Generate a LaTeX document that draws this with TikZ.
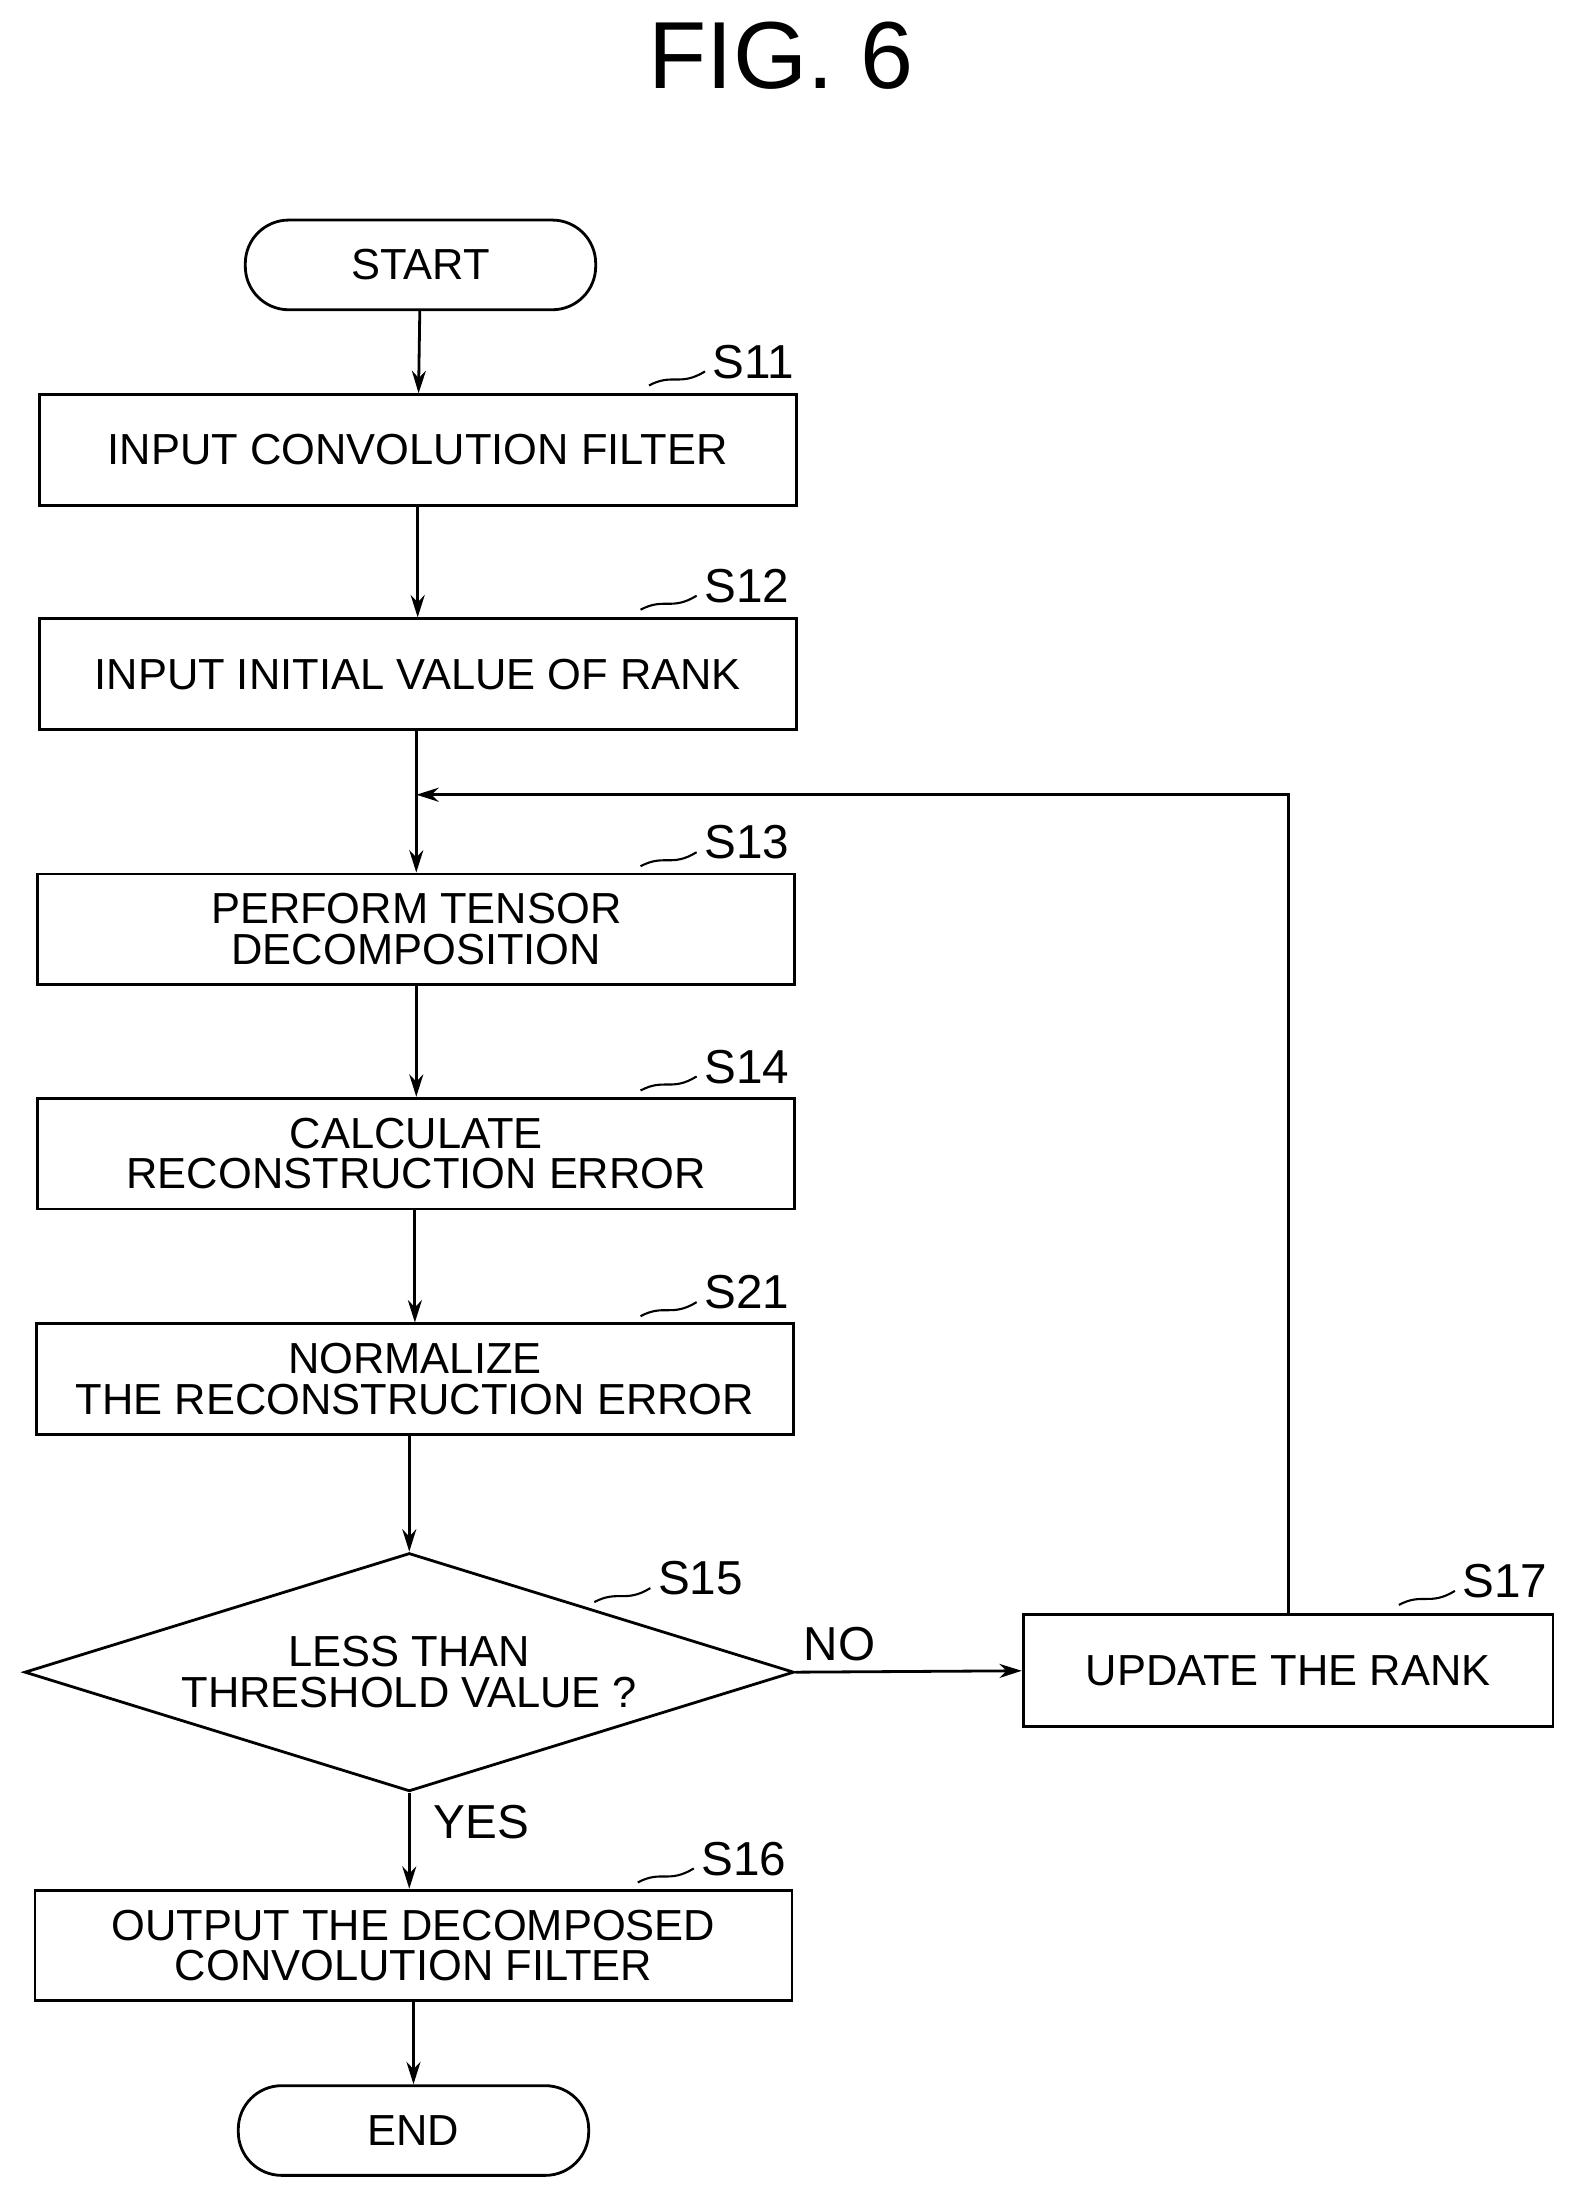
\documentclass[tikz,border=0pt]{standalone}
\usepackage{fontspec}
\setmainfont{Liberation Sans}
\usetikzlibrary{shapes.geometric,arrows.meta}
\begin{document}
\begin{tikzpicture}[x=1pt,y=-1pt,
  every node/.style={font=\fontsize{31}{33}\selectfont},
  box/.style={draw,line width=2pt,minimum width=540pt,minimum height=79pt,align=center,inner sep=0pt},
  term/.style={draw,line width=2pt,rounded corners=31pt,minimum width=250pt,minimum height=64pt},
  lab/.style={anchor=west,font=\fontsize{34}{36}\selectfont},
  arr/.style={line width=2pt,-{Stealth[length=16pt,width=10pt]}}]
\useasboundingbox (0,0) rectangle (1130,1576);
\node[font=\fontsize{68}{70}\selectfont] (title) at (557,40) {FIG. 6};
\node[term] (start) at (300,189) {START};
\node[box] (s11) at (298,321) {INPUT CONVOLUTION FILTER};
\node[box] (s12) at (298,481) {INPUT INITIAL VALUE OF RANK};
\node[box] (s13) at (297,663) {PERFORM TENSOR\\[-4pt]DECOMPOSITION};
\node[box] (s14) at (297,823) {CALCULATE\\[-4pt]RECONSTRUCTION ERROR};
\node[box] (s21) at (296,984) {NORMALIZE\\[-4pt]THE RECONSTRUCTION ERROR};
\node[draw,line width=2pt,diamond,aspect=3.23,minimum width=549pt,minimum height=170pt,inner sep=0pt,align=center] (s15) at (292,1193) {LESS THAN\\[-4pt]THRESHOLD VALUE ?};
\node[box,minimum width=378pt,minimum height=80pt] (s17) at (919,1192) {UPDATE THE RANK};
\node[box] (s16) at (295,1388) {OUTPUT THE DECOMPOSED\\[-4pt]CONVOLUTION FILTER};
\node[term] (end) at (295,1520) {END};
\foreach \n/\x/\y in {s11/505/258, s12/499/418, s13/499/601, s14/499/761, s21/499/922, s15/466/1126, s16/497/1326, s17/1040/1128}{
  \node[lab] (l\n) at (\x,\y) {\MakeUppercase{\n}};
  \draw[line width=1.5pt] (\x-42,\y+17) .. controls (\x-25,\y+8) and (\x-20,\y+18) .. (\x-2,\y+7);
}
\node[lab] (no) at (570,1173) {NO};
\node[lab] (yes) at (306,1300) {YES};
\draw[arr] (start) -- (s11);
\draw[arr] (s11) -- (s12);
\draw[arr] (s12.south -| s13.north) -- (s13);
\coordinate (loop) at (s13.north |- 0,567);
\draw[arr] (s17.north) |- (loop);
\draw[arr] (s13.south -| s14.north) -- (s14);
\draw[arr] (s14.south -| s21.north) -- (s21);
\draw[arr] (s21.south -| s15.north) -- (s15);
\draw[arr] (s15.east) -- (s17.west);
\draw[arr] (s15.south) -- (s16.north -| s15.south);
\draw[arr] (s16.south -| end.north) -- (end);
\end{tikzpicture}
\end{document}
